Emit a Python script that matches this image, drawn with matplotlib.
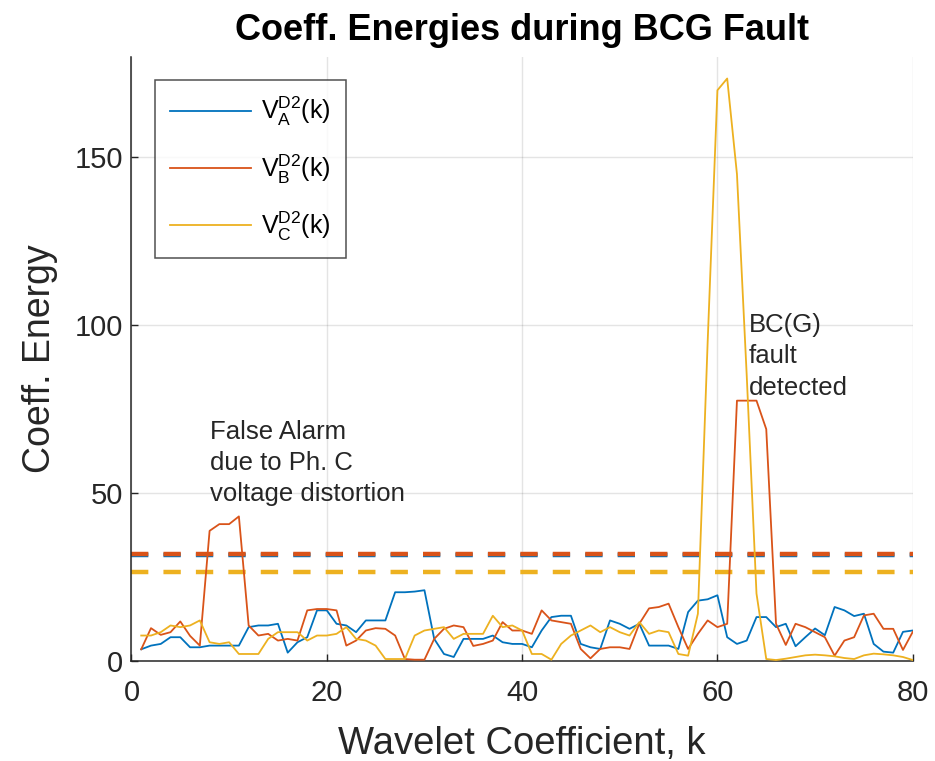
import numpy as np
import matplotlib
matplotlib.use('Agg')
import matplotlib.pyplot as plt

plt.rcParams['font.family'] = ['Liberation Sans', 'DejaVu Sans']
plt.rcParams['mathtext.fontset'] = 'custom'
plt.rcParams['mathtext.rm'] = 'Liberation Sans'
plt.rcParams['mathtext.it'] = 'Liberation Sans'

# wavelet coefficient index
k = np.arange(1, 81)

# coefficient energies per phase
energy_a = [3.4, 4.5, 5, 7, 7, 4, 4, 4.5, 4.5, 4.5,
            4.5, 10, 10.5, 10.5, 11, 2.4, 5.5, 7, 15, 15,
            11, 10.5, 8.5, 12, 12, 12, 20.4, 20.4, 20.6, 21,
            6.5, 2, 1.1, 6.5, 6.5, 6.5, 7.5, 5.5, 5, 5,
            4, 9, 13, 13.4, 13.4, 5, 4, 3.5, 12, 11,
            9.5, 11, 4.5, 4.5, 4.5, 3.5, 14.5, 17.9, 18.3, 19.5,
            7, 5, 6, 13, 13, 10, 11, 4.3, 7, 9.6,
            7.6, 16, 15, 13.3, 14, 5, 2.7, 2.4, 8.6, 9]
energy_b = [3.4, 9.7, 7.7, 8.5, 11.7, 7.4, 4.5, 38.7, 40.7, 40.7,
            43, 10.5, 7.5, 8, 6, 6.5, 6, 15, 15.4, 15.4,
            15, 4.5, 6, 9, 9.7, 9.5, 7.5, 0.5, 0.3, 0.3,
            6.5, 9.5, 10.5, 10, 4.4, 5, 6, 11.5, 9, 9,
            8, 15, 12, 11.5, 11, 3.5, 0.7, 3.5, 4, 4,
            3.5, 11, 15.6, 16, 17, 10, 3.5, 8, 12, 10,
            11, 77.5, 77.5, 77.5, 69, 11, 4.7, 11, 10, 8.5,
            7, 1.5, 6, 7, 13.5, 14, 9.5, 9.5, 3.2, 8.6]
energy_c = [7.5, 7.5, 8.5, 10.5, 10, 10.5, 12, 5.5, 5, 5.5,
            2, 2, 2, 6.5, 8.5, 8.5, 8.5, 6, 7.5, 7.5,
            8, 10, 6.5, 6, 4.5, 0.5, 0.5, 0.5, 7.5, 9,
            9.5, 10, 6.5, 8, 8, 8, 13.4, 10, 10.5, 9,
            2, 2, 0.3, 5, 7.5, 9, 10.5, 8.5, 10, 8.5,
            7.5, 11.5, 8, 9, 8.5, 2, 1.5, 14, 95, 170,
            173.5, 145, 85, 20, 0.5, 0.2, 0.6, 1.1, 1.6, 1.8,
            1.6, 1.3, 0.8, 0.5, 1.6, 2.1, 1.9, 1.6, 1.1, 0.2]

# detection thresholds
thr_a = 31.5
thr_b = 31.9
thr_c = 26.4

labels = [r'V$_{\mathrm{A}}^{\mathrm{D2}}$(k)',
          r'V$_{\mathrm{B}}^{\mathrm{D2}}$(k)',
          r'V$_{\mathrm{C}}^{\mathrm{D2}}$(k)']
colors = ['#0072BD', '#D95319', '#EDB120']

fig = plt.figure(figsize=(9.35, 7.61), dpi=100)
ax = fig.add_axes([0.1406, 0.1318, 0.8356, 0.7937])

for e, c, lab in zip([energy_a, energy_b, energy_c], colors, labels):
    ax.plot(k, e, color=c, lw=1.3, label=lab, zorder=3)

for t, c in zip([thr_a, thr_b, thr_c], colors):
    ax.axhline(t, color=c, lw=3.2, linestyle=(0, (3.9, 3.4)), zorder=2)

ax.set_xlim(0, 80)
ax.set_ylim(0, 180)
ax.set_xticks([0, 20, 40, 60, 80])
ax.set_yticks([0, 50, 100, 150])
ax.grid(True, color='#262626', alpha=0.12, lw=1)
ax.set_axisbelow(True)

for s in ['top', 'right']:
    ax.spines[s].set_visible(False)
for s in ['left', 'bottom']:
    ax.spines[s].set_color('#262626')
    ax.spines[s].set_linewidth(1.1)
ax.tick_params(direction='in', length=5, width=1, colors='#262626',
               labelsize=21)
ax.tick_params(axis='x', pad=13)
ax.tick_params(axis='y', pad=6)

ax.set_title('Coeff. Energies during BCG Fault', fontsize=26,
             fontweight='bold', pad=12)
ax.set_xlabel('Wavelet Coefficient, k', fontsize=27.5, color='#262626', labelpad=14)
ax.set_ylabel('Coeff. Energy', fontsize=27, color='#262626', labelpad=12)

ax.text(8, 59, 'False Alarm\ndue to Ph. C\nvoltage distortion', fontsize=18.5,
        va='center', ha='left', linespacing=1.38, color='#262626')
ax.text(63.2, 90.7, 'BC(G)\nfault\ndetected', fontsize=18.5,
        va='center', ha='left', linespacing=1.38, color='#262626')

leg = ax.legend(loc='upper left', bbox_to_anchor=(155 / 935, 1 - 80 / 761),
                bbox_transform=fig.transFigure, fontsize=18, frameon=True,
                fancybox=False, handlelength=3.25, handletextpad=0.4,
                labelspacing=0.95, borderpad=0.6, borderaxespad=0)
leg.get_frame().set_edgecolor('#262626')
leg.get_frame().set_linewidth(1.1)

plt.savefig('out.png', dpi=100)
